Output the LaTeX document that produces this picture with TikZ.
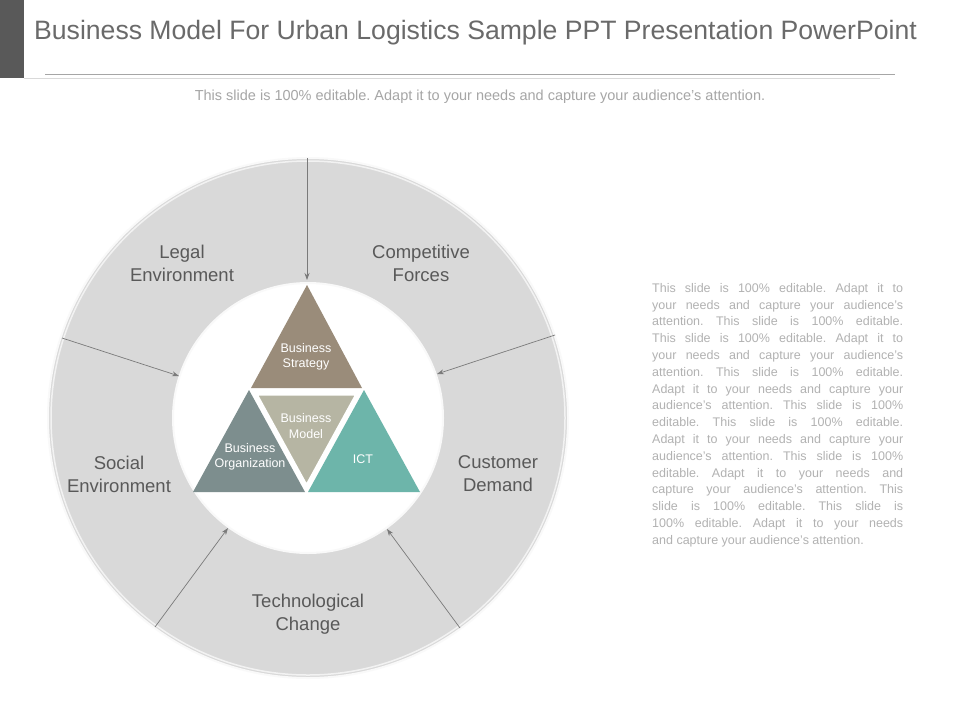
\documentclass[tikz,border=0pt]{standalone}
\usepackage{fontspec}
\setmainfont{Liberation Sans}
\usetikzlibrary{arrows.meta}
\frenchspacing
\definecolor{ringc}{HTML}{D9D9D9}
\definecolor{txt}{HTML}{595959}
\definecolor{tS}{HTML}{9A8C7A}
\definecolor{tO}{HTML}{7D8E8E}
\definecolor{tI}{HTML}{6DB5AA}
\definecolor{tM}{HTML}{B6B5A3}
\newcommand{\jl}[1]{\makebox[251pt][s]{#1}\\}
\tikzset{
 lbl/.style={font=\fontsize{18.5}{23}\selectfont,text=txt,align=center},
 tl/.style={font=\fontsize{12.5}{15.5}\selectfont,text=white,align=center},
 arr/.style={draw=txt!80,line width=0.7pt,-{Stealth[length=7pt,width=5pt]}}
}
\begin{document}
\begin{tikzpicture}[x=1pt,y=-1pt]
\useasboundingbox (0,0) rectangle (960,720);
\fill[white] (0,0) rectangle (960,720);
\fill[txt] (0,0) rectangle (24,78);
\node[anchor=west,inner sep=0pt,font=\fontsize{26.6}{30}\selectfont,text=txt!90] (title) at (34,33) {Business Model For Urban Logistics Sample PPT Presentation PowerPoint};
\draw[gray!70,line width=0.8pt] (45,74) -- (895,74);
\draw[gray!30,line width=0.6pt] (24,78) -- (880,78);
\node[font=\fontsize{14.5}{17}\selectfont,text=gray!70] (sub) at (480,97) {This slide is 100\% editable. Adapt it to your needs and capture your audience's attention.};
% ring
\fill[ringc,draw=white!95!gray,line width=2pt,even odd rule] (308,418) circle (260) (308,418) circle (135);
\draw[white!90!gray,line width=1.5pt] (308,418) circle (257);
\coordinate (o1) at (307,158); \coordinate (i1) at (307,280);
\coordinate (o2) at (555,335); \coordinate (i2) at (437,374);
\coordinate (o3) at (460,628); \coordinate (i3) at (387,529);
\coordinate (o4) at (155,627); \coordinate (i4) at (228,528);
\coordinate (o5) at (62,338); \coordinate (i5) at (179,376);
\foreach \k in {1,...,5} \draw[arr] (o\k) -- (i\k);
\node[lbl] (legal) at (182,263) {Legal\\Environment};
\node[lbl] (comp) at (421,263) {Competitive\\Forces};
\node[lbl] (soc) at (119,474) {Social\\Environment};
\node[lbl] (cust) at (498,474) {Customer\\Demand};
\node[lbl] (tech) at (308,614) {Technological\\Change};
% triangles
\fill[tS] (307,285) -- (362,388) -- (251,388) -- cycle;
\fill[tO] (249,390) -- (305,492) -- (193,492) -- cycle;
\fill[tI] (364,390) -- (420,492) -- (308,492) -- cycle;
\fill[tM,draw=white,line width=3pt,line join=miter] (256,394) -- (357,394) -- (306.5,486) -- cycle;
\node[tl] (bs) at (306,357) {Business\\Strategy};
\node[tl] (bm) at (306,426) {Business\\Model};
\node[tl] (bo) at (250,457) {Business\\Organization};
\node[tl] (ict) at (363,459) {ICT};
\node[anchor=north west,align=left,font=\fontsize{12.5}{16.8}\selectfont,text=gray!60,inner sep=0pt] (para) at (652,283) {%
\jl{This slide is 100\% editable. Adapt it to}
\jl{your needs and capture your audience's}
\jl{attention. This slide is 100\% editable.}
\jl{This slide is 100\% editable. Adapt it to}
\jl{your needs and capture your audience's}
\jl{attention. This slide is 100\% editable.}
\jl{Adapt it to your needs and capture your}
\jl{audience's attention. This slide is 100\%}
\jl{editable. This slide is 100\% editable.}
\jl{Adapt it to your needs and capture your}
\jl{audience's attention. This slide is 100\%}
\jl{editable. Adapt it to your needs and}
\jl{capture your audience's attention. This}
\jl{slide is 100\% editable. This slide is}
\jl{100\% editable. Adapt it to your needs}
and capture your audience's attention.};
\end{tikzpicture}
\end{document}
